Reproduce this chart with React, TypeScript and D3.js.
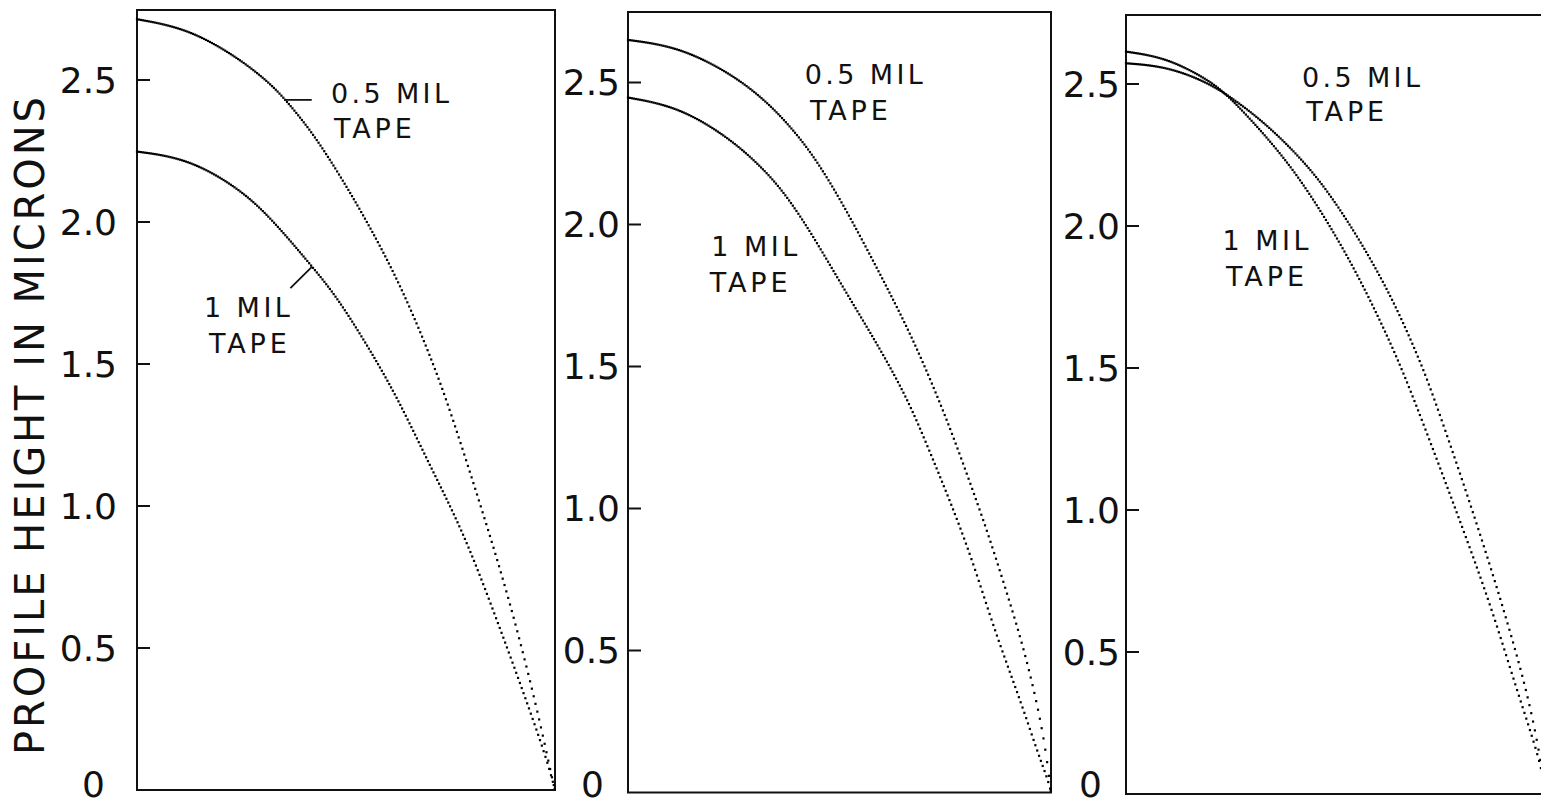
import React, { useEffect, useRef } from 'react';
import * as d3 from 'd3';

type Pt = [number, number];

// x: normalised position across the profile (0 = centre, 1 = edge), y: height in microns
const panel1HalfMil: Pt[] = [
  [0, 2.714], [0.12, 2.682], [0.239, 2.582], [0.319, 2.488], [0.359, 2.424],
  [0.415, 2.324], [0.478, 2.183], [0.558, 1.983], [0.638, 1.755], [0.718, 1.47],
  [0.766, 1.26], [0.829, 0.97], [0.893, 0.66], [0.957, 0.29], [0.993, 0.04], [1, 0],
];
const panel1OneMil: Pt[] = [
  [0, 2.248], [0.12, 2.224], [0.239, 2.124], [0.318, 2.019], [0.419, 1.843],
  [0.478, 1.737], [0.558, 1.549], [0.626, 1.373], [0.702, 1.138], [0.782, 0.905],
  [0.861, 0.599], [0.925, 0.342], [0.981, 0.106], [1, 0],
];
const panel2HalfMil: Pt[] = [
  [0, 2.65], [0.118, 2.626], [0.236, 2.538], [0.315, 2.45], [0.378, 2.356],
  [0.441, 2.239], [0.512, 2.063], [0.591, 1.84], [0.67, 1.61], [0.733, 1.39],
  [0.772, 1.241], [0.812, 1.077], [0.851, 0.913], [0.891, 0.725], [0.93, 0.537],
  [0.962, 0.349], [0.986, 0.17], [1, 0],
];
const panel2OneMil: Pt[] = [
  [0, 2.447], [0.118, 2.415], [0.236, 2.309], [0.315, 2.204], [0.371, 2.11],
  [0.434, 1.969], [0.512, 1.769], [0.591, 1.575], [0.658, 1.394], [0.701, 1.245],
  [0.741, 1.1], [0.78, 0.955], [0.819, 0.795], [0.859, 0.607], [0.898, 0.443],
  [0.938, 0.279], [0.969, 0.138], [0.993, 0.044], [1, 0],
];
const panel3HalfMil: Pt[] = [
  [0, 2.573], [0.095, 2.562], [0.19, 2.509], [0.254, 2.45], [0.333, 2.36],
  [0.413, 2.244], [0.476, 2.133], [0.555, 1.956], [0.635, 1.744], [0.698, 1.532],
  [0.73, 1.41], [0.814, 1.05], [0.895, 0.674], [0.954, 0.367], [0.981, 0.173], [1, 0],
];
const panel3OneMil: Pt[] = [
  [0, 2.614], [0.095, 2.593], [0.19, 2.52], [0.238, 2.467], [0.317, 2.344],
  [0.397, 2.203], [0.476, 2.026], [0.555, 1.821], [0.635, 1.574], [0.686, 1.39],
  [0.776, 1.038], [0.867, 0.674], [0.93, 0.367], [0.986, 0.12], [1, 0],
];

const tickValues = [0.5, 1.0, 1.5, 2.0, 2.5];
const tickLabels = ['0.5', '1.0', '1.5', '2.0', '2.5'];
const zeroLabel = '0';
const axisTitle = 'PROFILE HEIGHT IN MICRONS';
const halfMilName = '0.5 MIL';
const oneMilName = '1 MIL';
const tapeName = 'TAPE';

const WIDTH = 1541;
const HEIGHT = 809;
const FONT = '"DejaVu Sans", sans-serif';
const DOT_STEP = 1.8;

// each box sits slightly differently in the scan, so every panel has its own frame
const panels = [
  {
    left: 137, top: 10, right: 555, bottom: 790, numGap: 20, zeroGap: 32,
    half: panel1HalfMil, one: panel1OneMil,
    halfText: [0.464, 2.419], halfTape: [0.471, 2.296],
    oneText: [0.16, 1.667], oneTape: [0.172, 1.54],
    halfPointer: [[0.352, 2.43], [0.418, 2.43]],
    onePointer: [[0.419, 1.843], [0.367, 1.767]],
  },
  {
    left: 628, top: 12, right: 1051, bottom: 792.5, numGap: 8, zeroGap: 24,
    half: panel2HalfMil, one: panel2OneMil,
    halfText: [0.418, 2.494], halfTape: [0.43, 2.368],
    oneText: [0.197, 1.889], oneTape: [0.193, 1.763],
  },
  {
    left: 1126, top: 15, right: 1546, bottom: 794, numGap: 6, zeroGap: 24,
    half: panel3HalfMil, one: panel3OneMil,
    halfText: [0.419, 2.491], halfTape: [0.429, 2.37],
    oneText: [0.23, 1.914], oneTape: [0.238, 1.789],
  },
];

const App = () => {
  const svgRef = useRef<SVGSVGElement>(null);

  useEffect(() => {
    const svg = d3.select(svgRef.current);
    svg.selectAll('*').remove();

    // plotter style: points at a fixed x step, so the steep parts break up into dots
    const drawProfile = (g: any, pts: Pt[], x: any, y: any) => {
      const line = d3
        .line<Pt>()
        .x(d => x(d[0]))
        .y(d => y(d[1]))
        .curve(d3.curveBasis);
      const guide = g.append('path').attr('d', line(pts)).attr('fill', 'none');
      const node = guide.node() as SVGPathElement;
      const total = node.getTotalLength();
      const dots: { x: number; y: number }[] = [];
      let nextX = -Infinity;
      for (let s = 0; s <= total; s += 0.2) {
        const p = node.getPointAtLength(s);
        if (p.x >= nextX) {
          dots.push({ x: p.x, y: p.y });
          nextX = p.x + DOT_STEP;
        }
      }
      guide.remove();
      g.selectAll(null)
        .data(dots)
        .enter()
        .append('rect')
        .attr('x', (d: any) => d.x - 1.1)
        .attr('y', (d: any) => d.y - 1.1)
        .attr('width', 2.2)
        .attr('height', 2.2)
        .attr('fill', '#000');
    };

    const label = (g: any, at: number[], txt: string, len: number, x: any, y: any) => {
      g.append('text')
        .attr('x', x(at[0]))
        .attr('y', y(at[1]))
        .attr('font-family', FONT)
        .attr('font-size', 27)
        .attr('textLength', len)
        .attr('lengthAdjust', 'spacing')
        .attr('fill', '#111')
        .text(txt);
    };

    panels.forEach(p => {
      const x = d3.scaleLinear().domain([0, 1]).range([p.left, p.right]);
      const y = d3.scaleLinear().domain([0, 2.5]).range([p.bottom, p.bottom - 2.5 * 284]);
      const g = svg.append('g');

      // frame
      g.append('rect')
        .attr('x', p.left)
        .attr('y', p.top)
        .attr('width', p.right - p.left)
        .attr('height', p.bottom - p.top)
        .attr('fill', 'none')
        .attr('stroke', '#111')
        .attr('stroke-width', 2);

      // inward ticks on the left side
      g.selectAll(null)
        .data(tickValues)
        .enter()
        .append('line')
        .attr('x1', p.left)
        .attr('x2', p.left + 13)
        .attr('y1', (d: number) => y(d))
        .attr('y2', (d: number) => y(d))
        .attr('stroke', '#111')
        .attr('stroke-width', 2);

      g.selectAll(null)
        .data(tickValues)
        .enter()
        .append('text')
        .attr('x', p.left - p.numGap)
        .attr('y', (d: number) => y(d))
        .attr('dy', '0.36em')
        .attr('text-anchor', 'end')
        .attr('font-family', FONT)
        .attr('font-size', 36)
        .attr('fill', '#111')
        .text((d: number, i: number) => tickLabels[i]);

      // the zero sits right on the bottom edge of the page, keep it inside
      g.append('text')
        .attr('x', p.left - p.zeroGap)
        .attr('y', Math.min(y(0) - 4, 784))
        .attr('dy', '0.36em')
        .attr('text-anchor', 'end')
        .attr('font-family', FONT)
        .attr('font-size', 36)
        .attr('fill', '#111')
        .text(zeroLabel);

      drawProfile(g, p.half, x, y);
      drawProfile(g, p.one, x, y);

      label(g, p.halfText, halfMilName, 118, x, y);
      label(g, p.halfTape, tapeName, 78, x, y);
      label(g, p.oneText, oneMilName, 86, x, y);
      label(g, p.oneTape, tapeName, 78, x, y);

      [p.halfPointer, p.onePointer].forEach(ptr => {
        if (!ptr) return;
        g.append('line')
          .attr('x1', x(ptr[0][0]))
          .attr('y1', y(ptr[0][1]))
          .attr('x2', x(ptr[1][0]))
          .attr('y2', y(ptr[1][1]))
          .attr('stroke', '#111')
          .attr('stroke-width', 1.8);
      });
    });

    // shared axis title down the left margin
    svg
      .append('text')
      .attr('transform', 'translate(44,426) rotate(-90)')
      .attr('text-anchor', 'middle')
      .attr('font-family', FONT)
      .attr('font-size', 40)
      .attr('textLength', 658)
      .attr('lengthAdjust', 'spacing')
      .attr('fill', '#111')
      .text(axisTitle);
  }, []);

  return (
    <svg
      ref={svgRef}
      width={WIDTH}
      height={HEIGHT}
      style={{ position: 'absolute', left: 0, top: 0, background: '#fff' }}
    />
  );
};

export default App;
